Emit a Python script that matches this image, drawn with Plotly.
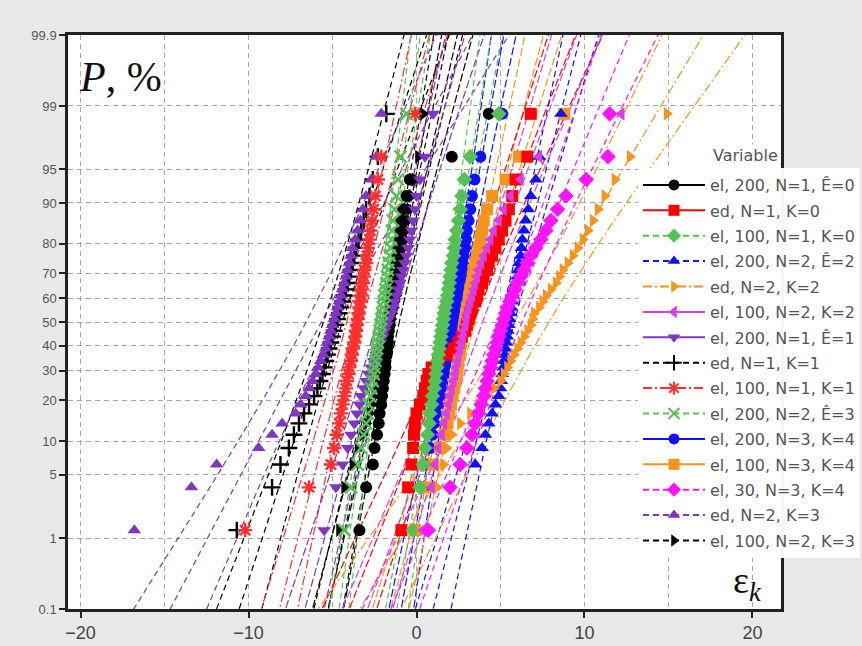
import math
from statistics import NormalDist, fmean, pstdev
import plotly.graph_objects as go

# ---------------- data: sorted observations of each sample ----------------
el200_n1_e0 = [-3.4, -3.0, -2.6, -2.5, -2.35, -2.25, -2.2, -2.1, -2.05, -2.0,
               -1.95, -1.9, -1.85, -1.85, -1.8, -1.75, -1.7, -1.7, -1.65, -1.6,
               -1.6, -1.55, -1.5, -1.5, -1.45, -1.4, -1.35, -1.3, -1.25, -1.2,
               -1.15, -1.1, -1.0, -0.95, -0.9, -0.8, -0.6, -0.4, 2.1, 4.3]
ed_n1_k0 = [-0.9, -0.5, -0.3, -0.2, -0.15, -0.1, 0.0, 0.2, 0.4, 0.5,
            0.6, 0.7, 0.9, 1.3, 1.8, 2.2, 2.5, 2.7, 2.9, 3.0,
            3.1, 3.2, 3.3, 3.5, 3.6, 3.7, 3.9, 4.0, 4.2, 4.3,
            4.5, 4.7, 4.9, 5.1, 5.3, 5.5, 5.7, 5.9, 6.6, 6.8]
el100_n1_k0 = [-0.2, 0.2, 0.4, 0.5, 0.65, 0.75, 0.8, 0.9, 0.95, 1.05,
               1.1, 1.15, 1.2, 1.25, 1.3, 1.35, 1.4, 1.45, 1.5, 1.55,
               1.6, 1.65, 1.7, 1.8, 1.85, 1.9, 1.95, 2.0, 2.05, 2.1,
               2.2, 2.25, 2.3, 2.4, 2.5, 2.6, 2.7, 2.85, 3.2, 4.9]
el200_n2_e2 = [0.5, 1.0, 3.5, 3.9, 4.1, 4.3, 4.5, 4.7, 4.9, 5.0,
               5.05, 5.1, 5.15, 5.2, 5.25, 5.3, 5.35, 5.4, 5.45, 5.5,
               5.55, 5.6, 5.65, 5.7, 5.75, 5.8, 5.9, 6.0, 6.05, 6.1,
               6.2, 6.25, 6.3, 6.4, 6.5, 6.65, 6.8, 7.1, 7.3, 8.6]
ed_n2_k2 = [0.2, 1.2, 1.6, 1.8, 2.1, 2.6, 3.2, 3.7, 4.2, 4.6,
            5.0, 5.2, 5.4, 5.6, 5.8, 6.0, 6.2, 6.4, 6.6, 6.8,
            6.9, 7.0, 7.3, 7.5, 7.7, 8.0, 8.3, 8.5, 8.7, 9.0,
            9.3, 9.6, 9.9, 10.2, 10.5, 10.8, 11.2, 11.8, 12.7, 14.9]
el100_n2_k2 = [0.4, 0.9, 1.1, 1.3, 1.5, 1.65, 1.8, 1.9, 2.0, 2.1,
               2.2, 2.3, 2.35, 2.45, 2.5, 2.6, 2.65, 2.75, 2.8, 2.9,
               2.95, 3.0, 3.1, 3.2, 3.3, 3.4, 3.5, 3.6, 3.7, 3.85,
               4.0, 4.2, 4.4, 4.6, 4.9, 5.2, 5.6, 6.2, 7.3, 12.2]
el200_n1_e1 = [-5.5, -4.8, -4.4, -4.1, -3.9, -3.7, -3.55, -3.4, -3.3, -3.15,
               -3.0, -2.85, -2.7, -2.55, -2.4, -2.3, -2.15, -2.0, -1.9, -1.75,
               -1.65, -1.5, -1.4, -1.3, -1.2, -1.1, -1.0, -0.9, -0.8, -0.7,
               -0.6, -0.5, -0.4, -0.3, -0.2, -0.1, 0.0, 0.2, 0.5, 1.0]
ed_n1_k1 = [-10.7, -8.6, -8.1, -7.6, -7.3, -7.0, -6.7, -6.4, -6.1, -5.9,
            -5.75, -5.6, -5.5, -5.4, -5.3, -5.2, -5.1, -5.0, -4.9, -4.8,
            -4.7, -4.6, -4.5, -4.4, -4.3, -4.2, -4.1, -4.0, -3.9, -3.8,
            -3.7, -3.6, -3.45, -3.3, -3.15, -3.0, -2.8, -2.6, -2.3, -1.8]
el100_n1_k1 = [-10.2, -6.4, -5.1, -4.9, -4.75, -4.6, -4.5, -4.4, -4.3, -4.2,
               -4.15, -4.05, -4.0, -3.9, -3.85, -3.8, -3.7, -3.65, -3.6, -3.55,
               -3.5, -3.45, -3.4, -3.35, -3.3, -3.25, -3.2, -3.15, -3.1, -3.0,
               -2.95, -2.9, -2.8, -2.75, -2.65, -2.55, -2.45, -2.3, -2.1, -0.1]
el200_n2_e3 = [-4.3, -3.9, -3.5, -3.3, -3.15, -3.0, -2.9, -2.85, -2.75, -2.7,
               -2.6, -2.55, -2.5, -2.45, -2.4, -2.35, -2.3, -2.25, -2.2, -2.15,
               -2.1, -2.05, -2.0, -1.95, -1.9, -1.85, -1.8, -1.75, -1.7, -1.65,
               -1.6, -1.55, -1.5, -1.45, -1.4, -1.3, -1.2, -1.1, -0.95, -0.6]
el200_n3_k4 = [0.0, 0.4, 0.6, 0.8, 0.95, 1.05, 1.15, 1.25, 1.35, 1.45,
               1.5, 1.6, 1.65, 1.75, 1.8, 1.9, 1.95, 2.0, 2.1, 2.15,
               2.2, 2.25, 2.3, 2.4, 2.45, 2.5, 2.55, 2.6, 2.7, 2.75,
               2.8, 2.9, 2.95, 3.0, 3.1, 3.2, 3.3, 3.45, 3.8, 5.1]
el100_n3_k4 = [-0.1, 0.6, 1.0, 1.4, 1.7, 1.85, 1.95, 2.05, 2.15, 2.25,
               2.3, 2.4, 2.45, 2.5, 2.55, 2.6, 2.65, 2.7, 2.8, 2.85,
               2.9, 2.95, 3.0, 3.1, 3.15, 3.2, 3.3, 3.35, 3.4, 3.5,
               3.6, 3.7, 3.8, 3.9, 4.0, 4.2, 4.5, 5.3, 6.1, 8.8]
el30_n3_k4 = [0.7, 2.0, 2.6, 3.0, 3.3, 3.5, 3.7, 3.85, 4.0, 4.1,
              4.2, 4.3, 4.4, 4.5, 4.6, 4.7, 4.8, 4.9, 5.0, 5.1,
              5.2, 5.3, 5.4, 5.55, 5.7, 5.85, 6.0, 6.2, 6.4, 6.6,
              6.8, 7.1, 7.4, 7.7, 8.0, 8.4, 8.9, 10.1, 11.4, 11.5]
ed_n2_k3 = [-16.8, -13.4, -11.9, -9.4, -8.6, -8.0, -7.2, -6.9, -6.6, -6.4,
            -6.2, -6.0, -5.85, -5.7, -5.55, -5.4, -5.3, -5.2, -5.1, -5.0,
            -4.9, -4.8, -4.7, -4.6, -4.5, -4.4, -4.3, -4.2, -4.1, -4.0,
            -3.9, -3.8, -3.65, -3.5, -3.35, -3.2, -3.0, -2.7, -2.4, -2.1]
el100_n2_k3 = [-4.6, -4.3, -3.8, -3.5, -3.2, -3.0, -2.8, -2.65, -2.5, -2.4,
               -2.3, -2.2, -2.1, -2.0, -1.95, -1.85, -1.8, -1.7, -1.65, -1.55,
               -1.5, -1.45, -1.35, -1.3, -1.2, -1.15, -1.1, -1.0, -0.95, -0.9,
               -0.8, -0.75, -0.65, -0.6, -0.5, -0.4, -0.3, -0.1, 0.1, 0.4]

SERIES_NAMES = ["el, 200, N=1, Ê=0", "ed, N=1, K=0", "el, 100, N=1, K=0",
                "el, 200, N=2, Ê=2", "ed, N=2, K=2", "el, 100, N=2, K=2",
                "el, 200, N=1, Ê=1", "ed, N=1, K=1", "el, 100, N=1, K=1",
                "el, 200, N=2, Ê=3", "el, 200, N=3, K=4", "el, 100, N=3, K=4",
                "el, 30, N=3, K=4", "ed, N=2, K=3", "el, 100, N=2, K=3"]
SERIES_VALUES = [el200_n1_e0, ed_n1_k0, el100_n1_k0, el200_n2_e2, ed_n2_k2,
                 el100_n2_k2, el200_n1_e1, ed_n1_k1, el100_n1_k1, el200_n2_e3,
                 el200_n3_k4, el100_n3_k4, el30_n3_k4, ed_n2_k3, el100_n2_k3]
COLORS = ["#000000", "#ff0000", "#55c155", "#1010ff", "#f7941d",
          "#d83fe6", "#8035c4", "#000000", "#ff3030", "#55c155",
          "#1010ff", "#f7941d", "#ff14ff", "#8035c4", "#000000"]
SYMBOLS = ["circle", "square", "diamond", "triangle-up", "triangle-right",
           "triangle-left", "triangle-down", "cross-thin", "asterisk", "x-thin",
           "circle", "square", "diamond", "triangle-up", "triangle-right"]
# legend line styles, and the dash used for the fitted lines inside the plot
DASHES = ["solid", "solid", "6px,4px", "6px,4px", "9px,3px,2px,3px",
          "solid", "solid", "6px,4px", "9px,3px,2px,3px", "6px,4px",
          "solid", "solid", "6px,4px", "6px,4px", "6px,4px"]
FIT_DASHES = ["8px,3px", "8px,3px", "6px,4px", "6px,4px", "9px,3px,2px,3px",
              "8px,3px", "8px,3px", "6px,4px", "9px,3px,2px,3px", "6px,4px",
              "8px,3px", "8px,3px", "6px,4px", "6px,4px", "6px,4px"]
# stacking of the point clouds (first drawn lies at the back)
DRAW_ORDER = [0, 14, 7, 13, 8, 6, 9, 10, 11, 1, 2, 3, 4, 5, 12]

P_TICKS = [0.1, 1, 5, 10, 20, 30, 40, 50, 60, 70, 80, 90, 95, 99, 99.9]
P_LABELS = ["0.1", "1", "5", "10", "20", "30", "40", "50", "60", "70",
            "80", "90", "95", "99", "99.9"]
X_TICKS = [-20, -10, 0, 10, 20]
X_MINOR = [-15, -5, 5, 15]

# ---------------- normal probability scale ----------------
ND = NormalDist()
Z_LO, Z_HI = ND.inv_cdf(0.001), ND.inv_cdf(0.999)
Z_CURVE = [Z_LO - 0.1 + (Z_HI - Z_LO + 0.2) * k / 60 for k in range(61)]
THIN = {"cross-thin", "x-thin", "asterisk"}


def marker_style(sym, col, size, lw):
    mk = dict(symbol=sym, size=size, color=col)
    if sym in THIN:
        mk["line"] = dict(color=col, width=lw)
    return mk


fig = go.Figure()

# fitted normal lines with 95% confidence bounds for the percentiles
for k in DRAW_ORDER:
    xs = sorted(SERIES_VALUES[k])
    n = len(xs)
    mu, sd = fmean(xs), pstdev(xs)
    fit = [mu + sd * z for z in Z_CURVE]
    half = [1.96 * sd * math.sqrt(1.0 / n + z * z / (2.0 * n)) for z in Z_CURVE]
    for line_x in (fit, [f - h for f, h in zip(fit, half)],
                   [f + h for f, h in zip(fit, half)]):
        fig.add_trace(go.Scatter(x=line_x, y=Z_CURVE, mode="lines",
                                 line=dict(color=COLORS[k], width=1.2,
                                           dash=FIT_DASHES[k]),
                                 hoverinfo="skip", showlegend=False))

# plotted points at their normal scores
for k in DRAW_ORDER:
    xs = sorted(SERIES_VALUES[k])
    n = len(xs)
    zs = [ND.inv_cdf((i + 0.5) / n) for i in range(n)]
    fig.add_trace(go.Scatter(x=xs, y=zs, mode="markers",
                             marker=marker_style(SYMBOLS[k], COLORS[k], 12, 2.4),
                             name=SERIES_NAMES[k], showlegend=False))

# legend samples: line with symbol, in the listed order
for k, name in enumerate(SERIES_NAMES):
    fig.add_trace(go.Scatter(x=[None], y=[None], mode="lines+markers",
                             name=name, legendrank=k + 1, legendgroup=name,
                             line=dict(color=COLORS[k], width=2, dash=DASHES[k]),
                             marker=marker_style(SYMBOLS[k], COLORS[k], 11, 2)))

fig.add_annotation(text="<i>P</i>, %", xref="paper", yref="paper",
                   x=0.012, y=0.97, xanchor="left", yanchor="top",
                   showarrow=False,
                   font=dict(family="Liberation Serif", size=42, color="#111"))
fig.add_annotation(text="ε<sub><i>k</i></sub>", xref="paper", yref="paper",
                   x=0.976, y=0.0, xanchor="right", yanchor="bottom",
                   showarrow=False,
                   font=dict(family="Liberation Serif", size=38, color="#111"))

grid = dict(showgrid=True, gridcolor="#a8a8a8", gridwidth=1, griddash="5px,4px")

fig.update_layout(
    width=862, height=646,
    margin=dict(l=68, r=81, t=35, b=37, autoexpand=False),
    paper_bgcolor="#e9e9e9", plot_bgcolor="#ffffff",
    font=dict(family="Liberation Sans", color="#555"),
    showlegend=True,
    legend=dict(x=(638 - 68) / 713, y=1 - (168 - 35) / 574,
                xanchor="left", yanchor="top",
                bgcolor="rgba(255,255,255,0.96)", borderwidth=0,
                font=dict(family="DejaVu Sans", size=16, color="#555"),
                itemwidth=62, traceorder="grouped", tracegroupgap=1.6),
    xaxis=dict(range=[-20.75, 21.7], tickvals=X_TICKS, ticks="outside",
               ticklen=6, tickwidth=1.5, tickcolor="#222",
               showline=True, linecolor="#222", linewidth=2.5, mirror=True,
               zeroline=False,
               tickfont=dict(family="Liberation Sans", size=18, color="#444"),
               minor=dict(tickvals=X_MINOR, ticks="", showgrid=True,
                          gridcolor="#a8a8a8", gridwidth=1, griddash="5px,4px"),
               **grid),
    yaxis=dict(range=[Z_LO, Z_HI],
               tickvals=[ND.inv_cdf(p / 100.0) for p in P_TICKS],
               ticktext=P_LABELS, ticks="outside", ticklen=6, tickwidth=1.5,
               tickcolor="#222", showline=True, linecolor="#222",
               linewidth=2.5, mirror=True, zeroline=False,
               tickfont=dict(family="Liberation Sans", size=13, color="#555"),
               **grid),
)

# legend heading, placed above the first entry
fig.add_annotation(text="Variable", xref="paper", yref="paper",
                   x=(711 - 68) / 713, y=1 - (155 - 35) / 574,
                   xanchor="left", yanchor="middle", showarrow=False,
                   bgcolor="rgba(255,255,255,0.96)",
                   font=dict(family="DejaVu Sans", size=16, color="#555"))

fig.write_html("out.html")
